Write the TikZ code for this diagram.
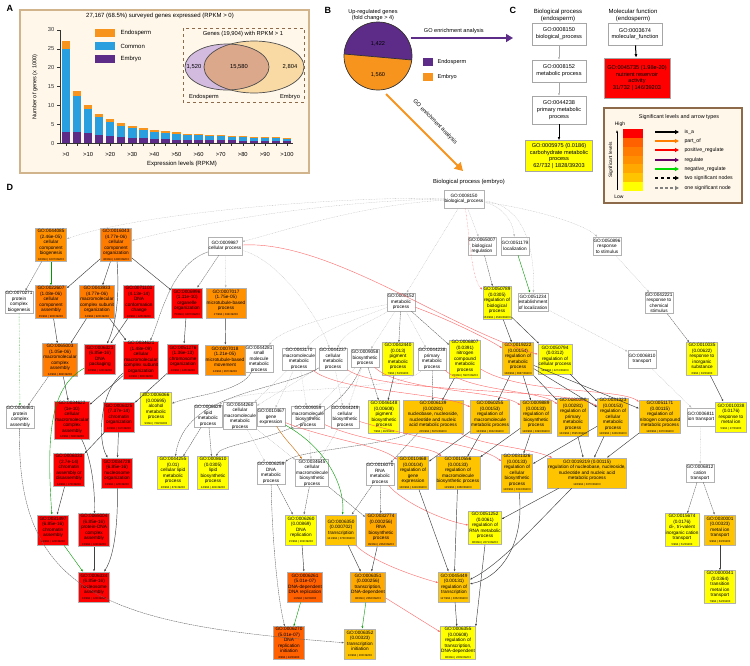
\documentclass[tikz,border=0pt]{standalone}
\usepackage{fontspec}
\setmainfont{Liberation Sans}
\usepackage{tikz}
\usetikzlibrary{arrows.meta, positioning, shapes.geometric, calc}
\definecolor{endoorange}{HTML}{F7941E}
\definecolor{commonblue}{HTML}{2A9FDF}
\definecolor{embpurple}{HTML}{5C2C88}
\definecolor{paneltan}{HTML}{FFF7EA}
\definecolor{paneledge}{HTML}{D2B48C}
\definecolor{legedge}{HTML}{8C6A4A}
\definecolor{vennpurple}{HTML}{D3BADF}
\definecolor{venntan}{HTML}{F9DAA5}
\definecolor{venncore}{HTML}{DBA88C}
\definecolor{sgA}{HTML}{FF0000}
\definecolor{sgB}{HTML}{FF6000}
\definecolor{sgC}{HTML}{FF7C00}
\definecolor{sgD}{HTML}{FF9000}
\definecolor{sgE}{HTML}{FFA800}
\definecolor{sgF}{HTML}{FFC400}
\definecolor{sgG}{HTML}{FFFF00}
\newcommand\gofont{\fontsize{4.7}{5.5}\selectfont}
\newcommand\cfont{\fontsize{5.6}{6.8}\selectfont}
\newcommand\gocount[1]{{\fontsize{2.8}{3}\selectfont #1}}

\begin{document}
\begin{tikzpicture}[x=1pt, y=-1pt,
  go/.style={draw=gray!60, line width=0.6pt, align=center, inner sep=0.6pt,
    font=\gofont, minimum width=31, minimum height=30},
  wt/.style={fill=white, minimum width=24, minimum height=18},
  cbox/.style={draw=gray!70, line width=0.7pt, align=center, inner sep=1pt,
    font=\cfont, fill=white, minimum width=54, minimum height=22},
  tip/.style={-{Latex[length=2.4pt,width=1.9pt]}},
  e0/.style={tip, draw=gray!55, line width=0.3pt, dash pattern=on 0.8pt off 0.8pt},
  e1/.style={tip, draw=black!60, line width=0.4pt, dash pattern=on 1.6pt off 0.6pt},
  e2/.style={tip, draw=black!75, line width=0.45pt},
  pr/.style={tip, draw=red!60, line width=0.4pt},
  pt/.style={tip, draw=green!60!black, line width=0.4pt},
  po/.style={tip, draw=orange!80!black, line width=0.4pt},
  lab/.style={font=\bfseries\fontsize{9}{9}\selectfont, anchor=north west}]
\useasboundingbox (0,0) rectangle (750,665);

% ---------------- panel A ----------------
\node[lab] at (3,2) {A};
\draw[paneledge, line width=1.5pt, fill=paneltan] (20,10) rectangle (309,173);
\node[font=\fontsize{6}{7}\selectfont] at (160,16) {27,167 (68.5\%) surveyed genes expressed (RPKM > 0)};

% stacked bars
\foreach \tot/\com/\emb [count=\i from 0] in {27.2/24.9/3.0, 13.8/12.5/3.0, 10.1/9.0/2.6,
    7.8/6.9/2.2, 6.3/5.5/1.8, 5.3/4.6/1.6, 4.6/4.0/1.4, 3.9/3.4/1.3, 3.5/3.0/1.1,
    3.1/2.7/1.0, 2.8/2.4/0.9, 2.5/2.2/0.85, 2.3/2.0/0.8, 2.15/1.9/0.75, 2.0/1.75/0.7,
    1.9/1.7/0.7, 1.8/1.6/0.65, 1.7/1.5/0.6, 1.6/1.45/0.6, 1.5/1.35/0.55, 1.45/1.3/0.55} {
  \pgfmathsetmacro\bx{66+\i*11.05}
  \fill[embpurple] ({\bx-4.2},143) rectangle ({\bx+4.2},{143-\emb*3.767});
  \fill[commonblue] ({\bx-4.2},{143-\emb*3.767}) rectangle ({\bx+4.2},{143-\com*3.767});
  \fill[endoorange] ({\bx-4.2},{143-\com*3.767}) rectangle ({\bx+4.2},{143-\tot*3.767});
  \draw[black!80, line width=0.6pt] (\bx,143) -- (\bx,146);
}
% axes
\draw[black!80, line width=1pt] (60,30) -- (60,143) -- (293,143);
\foreach \v in {0,5,...,30}
  \draw[black!80, line width=0.6pt] (57,{143-\v*3.767}) -- (60,{143-\v*3.767})
    node[left=2pt, font=\fontsize{5.8}{6}\selectfont] {\v};
\foreach \t [count=\j from 0] in {>0,>10,>20,>30,>40,>50,>60,>70,>80,>90,>100}
  \node[font=\fontsize{5.8}{6}\selectfont] at ({66+\j*22.1},154) {\t};
\node[font=\fontsize{6}{7}\selectfont] at (182,164) {Expression levels (RPKM)};
\node[font=\fontsize{5.6}{6}\selectfont, rotate=90] at (35,87) {Number of genes (x 1000)};

% legend
\fill[endoorange] (95,29) rectangle (115,37);
\fill[commonblue] (95,42) rectangle (115,50);
\fill[embpurple] (95,55) rectangle (115,63);
\node[anchor=west, font=\fontsize{6}{7}\selectfont] at (117,33) {Endosperm};
\node[anchor=west, font=\fontsize{6}{7}\selectfont] at (117,46) {Common};
\node[anchor=west, font=\fontsize{6}{7}\selectfont] at (117,59) {Embryo};

% venn inset
\draw[legedge, dashed, line width=0.8pt] (183,28) rectangle (304,102);
\node[font=\fontsize{5.8}{7}\selectfont] at (243,34) {Genes (19,904) with RPKM > 1};
\fill[venntan] (254,67) ellipse [x radius=50, y radius=26];
\fill[vennpurple] (227,67) ellipse [x radius=42, y radius=23];
\begin{scope}
  \clip (227,67) ellipse [x radius=42, y radius=23];
  \fill[venncore] (254,67) ellipse [x radius=50, y radius=26];
\end{scope}
\draw[black!70, line width=0.7pt] (254,67) ellipse [x radius=50, y radius=26];
\draw[black!70, line width=0.7pt] (227,67) ellipse [x radius=42, y radius=23];
\node[font=\fontsize{5.8}{7}\selectfont] at (194,67) {1,520};
\node[font=\fontsize{5.8}{7}\selectfont] at (239,67) {15,580};
\node[font=\fontsize{5.8}{7}\selectfont] at (290,67) {2,804};
\node[font=\fontsize{5.8}{7}\selectfont] at (204,97) {Endosperm};
\node[font=\fontsize{5.8}{7}\selectfont] at (290,97) {Embryo};

% ---------------- panel B ----------------
\node[lab] at (321,4) {B};
\node[align=center, font=\fontsize{5.6}{6.4}\selectfont] at (373,15) {Up-regulated genes\\(fold change > 4)};
\fill[endoorange] (378,56) circle (34);
\begin{scope}
  \clip (378,56) circle (34);
  \fill[embpurple] (340,15) -- (420,15) -- (420,60.7) -- (340,53.65) -- cycle;
\end{scope}
\draw[black!80, line width=0.7pt] (378,56) circle (34);
\draw[black!80, line width=0.7pt] (344,54) -- (412,60);
\node[font=\fontsize{5.6}{7}\selectfont] at (378,44) {1,422};
\node[font=\fontsize{5.6}{7}\selectfont] at (378,75) {1,560};
\fill[embpurple] (423,58) rectangle (433,66);
\fill[endoorange] (423,73) rectangle (433,81);
\node[anchor=west, font=\fontsize{5.6}{7}\selectfont] at (434,62) {Endosperm};
\node[anchor=west, font=\fontsize{5.6}{7}\selectfont] at (434,77) {Embryo};

\coordinate (pieR) at (411,38);
\coordinate (bpEndo) at (513,38);
\coordinate (pieB) at (386,94);
\coordinate (bpEmbTip) at (463,171);
\draw[embpurple, line width=1.4pt, -{Triangle[length=7pt,width=8pt]}] (pieR) -- (bpEndo)
  node[pos=0.42, above=0.5pt, black, font=\fontsize{5.6}{7}\selectfont] {GO enrichment analysis};
\draw[endoorange, line width=2pt, -{Triangle[length=8pt,width=9pt]}] (pieB) -- (bpEmbTip);
\node[rotate=-45, font=\fontsize{5.6}{7}\selectfont] at (435,122) {GO enrichment analysis};
\node[font=\fontsize{5.8}{7}\selectfont] (bpEmb) at (469,182) {Biological process (embryo)};

% ---------------- panel C ----------------
\node[lab] at (506,4) {C};
\node[align=center, font=\fontsize{6}{7}\selectfont] at (558,15) {Biological process\\(endosperm)};
\node[align=center, font=\fontsize{6}{7}\selectfont] at (633,15) {Molecular function\\(endosperm)};
\node[cbox] (c0008150) at (559,34) {GO:0008150\\biological\_process};
\node[cbox] (c0008152) at (559,71) {GO:0008152\\metabolic process};
\node[cbox, minimum height=28] (c0044238) at (559,110) {GO:0044238\\primary metabolic\\process};
\node[cbox, fill=sgG, minimum width=67, minimum height=31] (c0005975) at (559,156)
  {GO:0005975 (0.0186)\\carbohydrate metabolic\\process\\62/732 | 1828/39203};
\node[cbox] (m0003674) at (635,34) {GO:0003674\\molecular\_function};
\node[cbox, fill=sgA, minimum width=66, minimum height=40] (m0045735) at (637,78)
  {GO:0045735 (1.98e-20)\\nutrient reservoir\\activity\\31/732 | 146/39203};
\draw[tip, gray!70, line width=0.4pt] (c0008150) -- (c0008152);
\draw[tip, gray!70, line width=0.4pt] (c0008152) -- (c0044238);
\draw[-{Latex[length=3pt,width=2.6pt]}, black, line width=0.6pt] (c0044238) -- (c0005975);
\draw[-{Latex[length=3.5pt,width=3pt]}, black, line width=1pt] (m0003674) -- (m0045735);

% legend of levels and arrow types
\draw[legedge, line width=1.2pt, fill=paneltan] (604,108) rectangle (742,203);
\node[font=\fontsize{5.4}{6}\selectfont] at (679,117) {Significant levels and arrow types};
\foreach \c [count=\k from 0] in {sgA,sgB,sgC,sgD,sgE,sgF,sgG}
  \fill[\c] (623,{129+\k*8.86}) rectangle (643,{129+(\k+1)*8.86});
\node[font=\fontsize{5}{6}\selectfont] at (620,124) {High};
\node[font=\fontsize{5}{6}\selectfont] at (619,197) {Low};
\draw[-{Latex[length=2.5pt,width=2pt]}, line width=0.6pt] (617,190) -- (617,130);
\node[rotate=90, font=\fontsize{4.8}{6}\selectfont] at (611,160) {Significant levels};
\foreach \yy/\cc/\dd/\tt in {132/black/solid/is\_a, 141/orange/solid/part\_of,
    150/red/solid/positive\_regulate, 160/violet!80!black/solid/regulate,
    169/green!85!black/solid/negative\_regulate, 178/black/dashed/two significant nodes,
    188/gray/densely dashed/one significant node} {
  \draw[\cc, \dd, line width=1.4pt, -{Triangle[length=4pt,width=4pt]}] (655,\yy) -- (679,\yy);
  \node[anchor=west, font=\fontsize{5.2}{6}\selectfont] at (681,\yy) {\tt};
}

% ---------------- panel D ----------------
\node[lab] at (3,181) {D};

% row 0 and 1
\node[go, wt] (n0008150) at (464,199) {GO:0008150\\biological\_process};
\node[go, fill=sgD] (n0044085) at (51,245) {GO:0044085\\(2.46e-05)\\cellular\\component\\biogenesis\\\gocount{18/994 | 1037/39203}};
\node[go, fill=sgC] (n0016043) at (116,245) {GO:0016043\\(4.77e-06)\\cellular\\component\\organization\\\gocount{48/994 | 1290/39203}};
\node[go, wt] (n0009987) at (225,246) {GO:0009987\\cellular process};
\node[go, wt] (n0065007) at (482,246) {GO:0065007\\biological\\regulation};
\node[go, wt] (n0051179) at (515,246) {GO:0051179\\localization};
\node[go, wt] (n0050896) at (607,246) {GO:0050896\\response\\to stimulus};

% row 2
\node[go, wt] (n0070271) at (19,302) {GO:0070271\\protein\\complex\\biogenesis};
\node[go, fill=sgC] (n0022607) at (51,302) {GO:0022607\\(1.08e-06)\\cellular\\component\\assembly\\\gocount{35/994 | 900/39203}};
\node[go, fill=sgC] (n0043933) at (97,302) {GO:0043933\\(4.77e-06)\\macromolecular\\complex subunit\\organization\\\gocount{34/994 | 920/39203}};
\node[go, fill=sgA] (n0071103) at (139,302) {GO:0071103\\(4.13e-14)\\DNA\\conformation\\change\\\gocount{40/994 | 425/39203}};
\node[go, fill=sgA] (n0006996) at (187,303) {GO:0006996\\(1.11e-10)\\organelle\\organization\\\gocount{75/994 | 1837/39203}};
\node[go, fill=sgD] (n0007017) at (226,303) {GO:0007017\\(1.75e-05)\\microtubule-based\\process\\\gocount{27/994 | 334/39203}};
\node[go, wt] (n0008152) at (401,302) {GO:0008152\\metabolic\\process};
\node[go, fill=sgG, minimum width=25] (n0050789) at (497,303) {GO:0050789\\(0.0305)\\regulation of\\biological\\process\\\gocount{153/994 | 4549/39203}};
\node[go, wt] (n0051234) at (533,302) {GO:0051234\\establishment\\of localization};
\node[go, wt] (n0042221) at (659,303) {GO:0042221\\response to\\chemical\\stimulus};

% row 3
\node[go, fill=sgC] (n0065003) at (60,360) {GO:0065003\\(1.05e-06)\\macromolecular\\complex\\assembly\\\gocount{34/994 | 882/39203}};
\node[go, fill=sgA] (n0006323) at (100,359) {GO:0006323\\(6.85e-16)\\DNA\\packaging\\\gocount{40/994 | 120/39203}};
\node[go, fill=sgA] (n0034621) at (141,360) {GO:0034621\\(1.48e-09)\\cellular\\macromolecular\\complex subunit\\organization\\\gocount{40/994 | 800/39203}};
\node[go, fill=sgA] (n0051276) at (183,359) {GO:0051276\\(1.36e-13)\\chromosome\\organization\\\gocount{40/994 | 445/39203}};
\node[go, fill=sgD] (n0007018) at (225,360) {GO:0007018\\(1.21e-05)\\microtubule-based\\movement\\\gocount{24/994 | 267/39203}};
\node[go, wt] (n0044281) at (259,359) {GO:0044281\\small\\molecule\\metabolic\\process};
\node[go, wt] (n0043170) at (299,359) {GO:0043170\\macromolecule\\metabolic\\process};
\node[go, wt] (n0044237) at (333,359) {GO:0044237\\cellular\\metabolic\\process};
\node[go, wt] (n0009058) at (365,358) {GO:0009058\\biosynthetic\\process};
\node[go, fill=sgG] (n0042440) at (398,359) {GO:0042440\\(0.013)\\pigment\\metabolic\\process\\\gocount{7/994 | 53/39203}};
\node[go, wt] (n0044238) at (432,359) {GO:0044238\\primary\\metabolic\\process};
\node[go, fill=sgG] (n0006807) at (465,359) {GO:0006807\\(0.0391)\\nitrogen\\compound\\metabolic\\process\\\gocount{22/994 | 5937/39203}};
\node[go, fill=sgF] (n0019222) at (518,359) {GO:0019222\\(0.00154)\\regulation of\\metabolic\\process\\\gocount{138/994 | 3687/39203}};
\node[go, fill=sgG] (n0050794) at (555,359) {GO:0050794\\(0.0312)\\regulation of\\cellular process\\\gocount{144/994 | 4274/39203}};
\node[go, wt] (n0006810) at (642,359) {GO:0006810\\transport};
\node[go, fill=sgG] (n0010035) at (702,359) {GO:0010035\\(0.00622)\\response to\\inorganic\\substance\\\gocount{6/994 | 33/39203}};

% row 4
\node[go, wt] (n0006461) at (20,417) {GO:0006461\\protein\\complex\\assembly};
\node[go, fill=sgA] (n0034622) at (72,420) {GO:0034622\\(1e-10)\\cellular\\macromolecular\\complex\\assembly\\\gocount{34/994 | 582/39203}};
\node[go, fill=sgA] (n0006325) at (119,417) {GO:0006325\\(7.37e-14)\\chromatin\\organization\\\gocount{40/994 | 317/39203}};
\node[go, fill=sgG] (n0006066) at (156,409) {GO:0006066\\(0.00695)\\alcohol\\metabolic\\process\\\gocount{9/994 | 729/39203}};
\node[go, wt] (n0006629) at (208,416) {GO:0006629\\lipid\\metabolic\\process};
\node[go, wt] (n0044260) at (240,416) {GO:0044260\\cellular\\macromolecule\\metabolic\\process};
\node[go, wt] (n0010467) at (271,417) {GO:0010467\\gene\\expression};
\node[go, wt] (n0009059) at (308,417) {GO:0009059\\macromolecule\\biosynthetic\\process};
\node[go, wt] (n0044249) at (345,417) {GO:0044249\\cellular\\biosynthetic\\process};
\node[go, fill=sgG] (n0046148) at (384,417) {GO:0046148\\(0.00608)\\pigment\\biosynthetic\\process\\\gocount{7/994 | 46/39203}};
\node[go, fill=sgF, minimum width=60] (n0006139) at (433,417) {GO:0006139\\(0.00281)\\nucleobase, nucleoside,\\nucleotide and nucleic\\acid metabolic process\\\gocount{205/994 | 5979/39203}};
\node[go, fill=sgF] (n0060255) at (490,417) {GO:0060255\\(0.00153)\\regulation of\\macromolecule\\metabolic process\\\gocount{133/994 | 3632/39203}};
\node[go, fill=sgF] (n0009889) at (536,417) {GO:0009889\\(0.00133)\\regulation of\\biosynthetic\\process\\\gocount{128/994 | 3393/39203}};
\node[go, fill=sgF] (n0080090) at (573,417) {GO:0080090\\(0.00281)\\regulation of\\primary\\metabolic\\process\\\gocount{132/994 | 3595/39203}};
\node[go, fill=sgF] (n0031323) at (613,417) {GO:0031323\\(0.00153)\\regulation of\\cellular\\metabolic\\process\\\gocount{128/994 | 3439/39203}};
\node[go, fill=sgF] (n0051171) at (660,417) {GO:0051171\\(0.00115)\\regulation of\\nitrogen compound\\metabolic process\\\gocount{128/994 | 3370/39203}};
\node[go, wt] (n0006811) at (701,417) {GO:0006811\\ion transport};
\node[go, fill=sgG] (n0010038) at (731,417) {GO:0010038\\(0.0176)\\response to\\metal ion\\\gocount{5/994 | 27/39203}};

% row 5
\node[go, fill=sgA] (n0006333) at (69,470) {GO:0006333\\(2.7e-14)\\chromatin\\assembly or\\disassembly\\\gocount{34/994 | 172/39203}};
\node[go, fill=sgA] (n0034728) at (117,473) {GO:0034728\\(6.85e-16)\\nucleosome\\organization\\\gocount{33/994 | 120/39203}};
\node[go, fill=sgG] (n0044255) at (173,473) {GO:0044255\\(0.01)\\cellular lipid\\metabolic\\process\\\gocount{26/994 | 874/39203}};
\node[go, fill=sgG] (n0008610) at (213,473) {GO:0008610\\(0.0305)\\lipid\\biosynthetic\\process\\\gocount{24/994 | 481/39203}};
\node[go, wt] (n0006259) at (271,473) {GO:0006259\\DNA\\metabolic\\process};
\node[go, wt] (n0034645) at (312,473) {GO:0034645\\cellular\\macromolecule\\biosynthetic\\process};
\node[go, wt] (n0016070) at (380,474) {GO:0016070\\RNA\\metabolic\\process};
\node[go, fill=sgF] (n0010468) at (413,473) {GO:0010468\\(0.00104)\\regulation of\\gene\\expression\\\gocount{130/994 | 3419/39203}};
\node[go, fill=sgF] (n0010556) at (458,473) {GO:0010556\\(0.00133)\\regulation of\\macromolecule\\biosynthetic process\\\gocount{129/994 | 3360/39203}};
\node[go, fill=sgF] (n0031326) at (517,473) {GO:0031326\\(0.00133)\\regulation of\\cellular\\biosynthetic\\process\\\gocount{128/994 | 3313/39203}};
\node[go, fill=sgF] (n0019219) at (587,473) {GO:0019219 (0.00115)\\regulation of nucleobase, nucleoside,\\nucleotide and nucleic acid\\metabolic process\\\gocount{128/994 | 3370/39203}};
\node[go, wt] (n0006812) at (700,473) {GO:0006812\\cation\\transport};

% row 6
\node[go, fill=sgA] (n0031497) at (53,530) {GO:0031497\\(6.85e-16)\\chromatin\\assembly\\\gocount{34/994 | 122/39203}};
\node[go, fill=sgA] (n0065004) at (94,530) {GO:0065004\\(6.85e-16)\\protein-DNA\\complex\\assembly\\\gocount{33/994 | 122/39203}};
\node[go, fill=sgG] (n0006260) at (301,530) {GO:0006260\\(0.00869)\\DNA\\replication\\\gocount{15/994 | 202/39203}};
\node[go, fill=sgF] (n0006350) at (341,530) {GO:0006350\\(0.000702)\\transcription\\\gocount{141/994 | 3730/39203}};
\node[go, fill=sgE] (n0032774) at (381,530) {GO:0032774\\(0.000256)\\RNA\\biosynthetic\\process\\\gocount{99/994 | 2364/39203}};
\node[go, fill=sgG] (n0051252) at (485,528) {GO:0051252\\(0.0061)\\regulation of\\RNA metabolic\\process\\\gocount{86/994 | 2271/39203}};
\node[go, fill=sgG] (n0015674) at (682,530) {GO:0015674\\(0.0176)\\di-, tri-valent\\inorganic cation\\transport\\\gocount{5/994 | 51/39203}};
\node[go, fill=sgF] (n0030001) at (720,530) {GO:0030001\\(0.00323)\\metal ion\\transport\\\gocount{9/994 | 83/39203}};

% row 7
\node[go, fill=sgA] (n0006334) at (94,587) {GO:0006334\\(6.85e-16)\\nucleosome\\assembly\\\gocount{33/994 | 120/39203}};
\node[go, fill=sgB] (n0006261) at (305,587) {GO:0006261\\(5.01e-07)\\DNA-dependent\\DNA replication\\\gocount{10/994 | 32/39203}};
\node[go, fill=sgE] (n0006351) at (368,587) {GO:0006351\\(0.000256)\\transcription,\\DNA-dependent\\\gocount{98/994 | 2362/39203}};
\node[go, fill=sgF] (n0045449) at (454,587) {GO:0045449\\(0.00131)\\regulation of\\transcription\\\gocount{127/994 | 3352/39203}};
\node[go, fill=sgG] (n0000041) at (720,587) {GO:0000041\\(0.0364)\\transition\\metal ion\\transport\\\gocount{7/994 | 54/39203}};

% row 8
\node[go, fill=sgB] (n0006270) at (289,643) {GO:0006270\\(5.01e-07)\\DNA\\replication\\initiation\\\gocount{8/994 | 24/39203}};
\node[go, fill=sgF] (n0006352) at (360,644) {GO:0006352\\(0.00323)\\transcription\\initiation\\\gocount{10/994 | 200/39203}};
\node[go, fill=sgG] (n0006355) at (458,643) {GO:0006355\\(0.00608)\\regulation of\\transcription,\\DNA-dependent\\\gocount{86/994 | 2209/39203}};

% edges from the root
\draw[e0] (n0008150) .. controls (330,196) and (130,215) .. (n0044085);
\draw[e0] (n0008150) .. controls (340,200) and (200,222) .. (n0016043);
\draw[e0] (n0008150) .. controls (360,205) and (280,232) .. (n0009987);
\draw[e0] (n0008150) -- (n0008152);
\draw[e0] (n0008150) -- (n0065007);
\draw[pr, densely dotted] (n0008150) .. controls (470,240) and (472,280) .. (n0050789);
\draw[e0] (n0008150) .. controls (500,205) and (513,220) .. (n0051179);
\draw[e0] (n0008150) .. controls (540,210) and (585,225) .. (n0050896);
\draw[e0] (n0008150) .. controls (525,205) and (535,250) .. (n0051234);

% cellular process and component organisation
\draw[e1] (n0009987) -- (n0006996);
\draw[e0] (n0009987) -- (n0007017);
\draw[e1] (n0009987) .. controls (170,265) and (160,320) .. (n0034621);
\draw[e0] (n0009987) .. controls (280,260) and (320,320) .. (n0044237);
\draw[pr] (n0009987) .. controls (330,240) and (450,330) .. (n0050794);
\draw[e1] (n0044085) -- (n0070271);
\draw[pt] (n0044085) -- (n0022607);
\draw[e2] (n0016043) -- (n0022607);
\draw[e2] (n0016043) -- (n0043933);
\draw[e2] (n0016043) -- (n0006996);
\draw[e2] (n0016043) .. controls (119,290) and (118,320) .. (n0006323);
\draw[pt, densely dotted] (n0070271) -- (n0006461);
\draw[e2] (n0022607) -- (n0065003);
\draw[e2] (n0043933) -- (n0065003);
\draw[e2] (n0043933) -- (n0034621);
\draw[e2] (n0071103) -- (n0006323);
\draw[e2] (n0006996) -- (n0051276);
\draw[e2] (n0007017) -- (n0007018);
\draw[e1] (n0065003) -- (n0006461);
\draw[e2] (n0065003) -- (n0034622);
\draw[e2] (n0034621) -- (n0034622);
\draw[e2] (n0034621) .. controls (100,390) and (97,440) .. (n0034728);
\draw[e2] (n0051276) -- (n0006325);
\draw[pt] (n0006323) .. controls (55,385) and (45,420) .. (n0031497);
\draw[e2] (n0034622) .. controls (92,460) and (95,490) .. (n0065004);
\draw[e2] (n0006325) -- (n0006333);
\draw[e2] (n0006325) -- (n0034728);
\draw[e2] (n0006333) -- (n0031497);
\draw[e2] (n0034728) .. controls (118,520) and (115,555) .. (n0006334);
\draw[e2] (n0065004) -- (n0006334);
\draw[pt] (n0031497) -- (n0006334);
\draw[e1] (n0006461) .. controls (15,600) and (120,625) .. (n0006352);

% metabolic branch
\draw[e0] (n0008152) .. controls (330,315) and (280,330) .. (n0044281);
\draw[e0] (n0008152) .. controls (360,318) and (320,330) .. (n0043170);
\draw[e0] (n0008152) .. controls (375,320) and (345,330) .. (n0044237);
\draw[e0] (n0008152) -- (n0009058);
\draw[e1] (n0008152) -- (n0042440);
\draw[e0] (n0008152) -- (n0044238);
\draw[e1] (n0008152) -- (n0006807);
\draw[pr] (n0008152) .. controls (450,320) and (490,340) .. (n0019222);
\draw[e1] (n0065007) -- (n0050789);
\draw[pt] (n0051179) -- (n0051234);
\draw[e0] (n0050896) -- (n0042221);
\draw[e1] (n0042221) -- (n0010035);
\draw[e2] (n0010035) -- (n0010038);
\draw[e0] (n0051234) -- (n0006810);
\draw[e0] (n0006810) -- (n0006811);
\draw[e0] (n0006811) -- (n0006812);
\draw[e1] (n0006812) -- (n0015674);
\draw[e1] (n0006812) -- (n0030001);
\draw[e2] (n0030001) -- (n0000041);
\draw[e2] (n0050789) -- (n0019222);
\draw[e2] (n0050789) -- (n0050794);

% row 3 to row 4
\draw[e1] (n0044281) .. controls (240,392) and (195,395) .. (n0006066);
\draw[e0] (n0044238) .. controls (400,395) and (240,385) .. (n0006629);
\draw[e0] (n0043170) -- (n0010467);
\draw[e0] (n0043170) -- (n0009059);
\draw[e0] (n0043170) -- (n0044260);
\draw[e0] (n0044237) -- (n0044260);
\draw[e0] (n0044237) -- (n0044249);
\draw[e1] (n0044237) .. controls (280,392) and (185,390) .. (n0044255);
\draw[e0] (n0009058) -- (n0009059);
\draw[e0] (n0009058) -- (n0044249);
\draw[e1] (n0009058) -- (n0046148);
\draw[e1] (n0009058) .. controls (330,440) and (220,440) .. (n0008610);
\draw[e2] (n0042440) -- (n0046148);
\draw[e1] (n0044238) -- (n0006139);
\draw[e2] (n0006807) -- (n0006139);
\draw[pr] (n0043170) .. controls (340,392) and (440,392) .. (n0060255);
\draw[pr] (n0009058) .. controls (400,392) and (500,390) .. (n0009889);
\draw[pr] (n0044238) .. controls (470,392) and (540,390) .. (n0080090);
\draw[pr] (n0044237) .. controls (380,394) and (570,388) .. (n0031323);
\draw[pr] (n0006807) .. controls (520,394) and (620,388) .. (n0051171);
\draw[e2] (n0019222) -- (n0060255);
\draw[e2] (n0019222) -- (n0009889);
\draw[e2] (n0019222) -- (n0080090);
\draw[e2] (n0019222) -- (n0031323);
\draw[e2] (n0019222) -- (n0051171);
\draw[e2] (n0050794) -- (n0031323);

% row 4 to row 5
\draw[e1] (n0006629) -- (n0044255);
\draw[e1] (n0006629) -- (n0008610);
\draw[e0] (n0044260) -- (n0006259);
\draw[e0] (n0044260) -- (n0034645);
\draw[e0] (n0009059) -- (n0034645);
\draw[e0] (n0044249) -- (n0034645);
\draw[e1] (n0006139) .. controls (390,445) and (300,450) .. (n0006259);
\draw[e1] (n0006139) -- (n0016070);
\draw[po] (n0010467) .. controls (285,440) and (292,445) .. (n0034645);
\draw[pt] (n0010467) .. controls (330,450) and (345,490) .. (n0006350);
\draw[pr] (n0010467) .. controls (330,440) and (380,445) .. (n0010468);
\draw[pr] (n0009059) .. controls (370,445) and (430,445) .. (n0010556);
\draw[pr] (n0044249) .. controls (420,440) and (480,445) .. (n0031326);
\draw[pr] (n0006139) .. controls (480,445) and (530,448) .. (n0019219);
\draw[e2] (n0060255) -- (n0010468);
\draw[e2] (n0060255) -- (n0010556);
\draw[e2] (n0009889) -- (n0010556);
\draw[e2] (n0009889) -- (n0031326);
\draw[e2] (n0031323) -- (n0031326);
\draw[e2] (n0080090) -- (n0019219);
\draw[e2] (n0031323) -- (n0019219);
\draw[e2] (n0051171) -- (n0019219);

% lower rows
\draw[e1] (n0006259) -- (n0006260);
\draw[e1] (n0006259) .. controls (272,540) and (278,600) .. (n0006270);
\draw[e1] (n0034645) -- (n0006260);
\draw[e1] (n0016070) -- (n0006350);
\draw[e1] (n0016070) -- (n0032774);
\draw[e1] (n0034645) -- (n0032774);
\draw[pr] (n0016070) .. controls (400,500) and (440,520) .. (n0051252);
\draw[e2] (n0019219) -- (n0051252);
\draw[e2] (n0010468) -- (n0045449);
\draw[e2] (n0010556) -- (n0045449);
\draw[e2] (n0031326) .. controls (525,545) and (500,578) .. (n0045449);
\draw[e2] (n0019219) .. controls (540,520) and (500,565) .. (n0045449);
\draw[e2] (n0006260) -- (n0006261);
\draw[e2] (n0006350) -- (n0006351);
\draw[e2] (n0032774) -- (n0006351);
\draw[pr] (n0006350) .. controls (370,560) and (410,575) .. (n0045449);
\draw[pt] (n0006261) -- (n0006270);
\draw[pt] (n0006351) -- (n0006352);
\draw[pr] (n0006351) -- (n0006355);
\draw[e2] (n0045449) -- (n0006355);
\draw[e2] (n0051252.south) -- (n0006355.north east);
\end{tikzpicture}
\end{document}
